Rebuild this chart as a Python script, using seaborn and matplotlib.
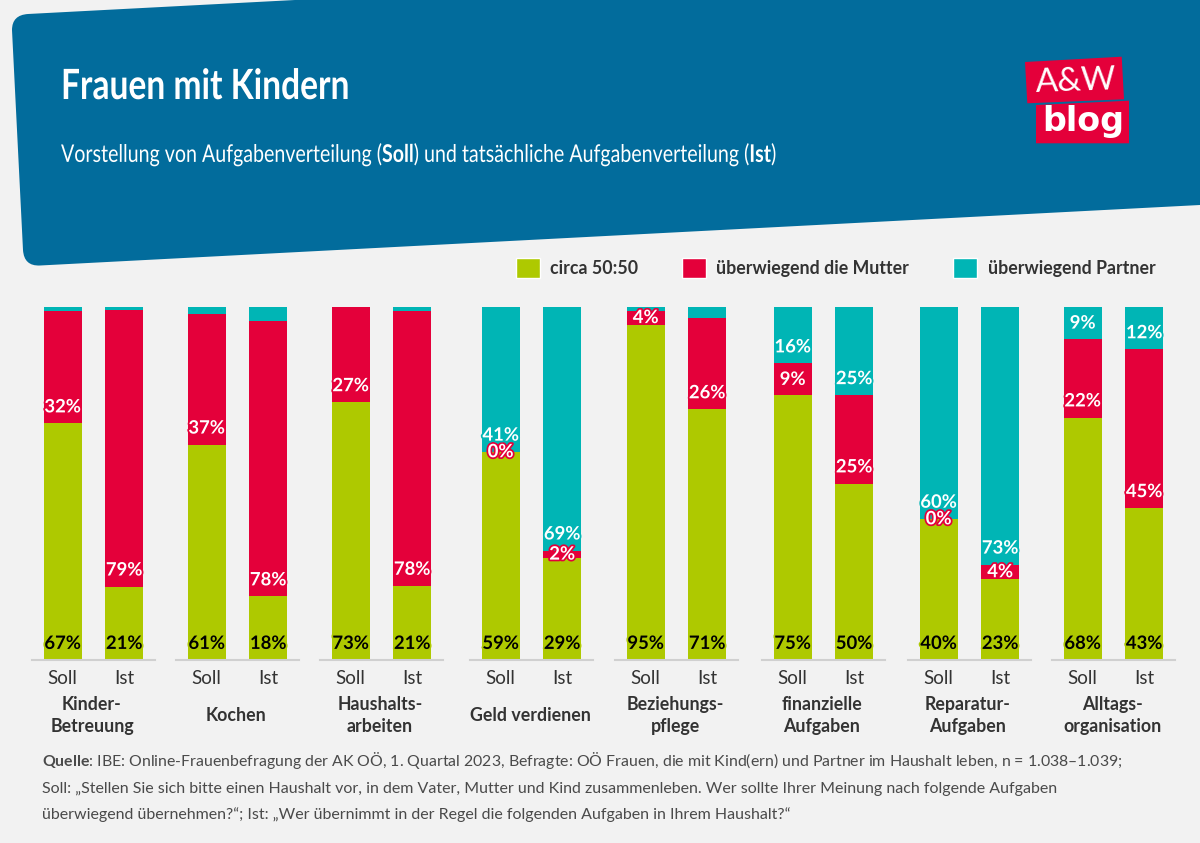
import matplotlib
matplotlib.use('Agg')
import matplotlib.pyplot as plt
import matplotlib.patheffects as pe
from matplotlib.path import Path
from matplotlib.patches import PathPatch, Polygon, Patch
from matplotlib.transforms import Affine2D
import seaborn as sns

aufgaben = ['Kinder-\nBetreuung', 'Kochen', 'Haushalts-\narbeiten', 'Geld verdienen',
            'Beziehungs-\npflege', 'finanzielle\nAufgaben', 'Reparatur-\nAufgaben', 'Alltags-\norganisation']
perioden = ['Soll', 'Ist']
# je [Soll, Ist]
circa = [[67, 21], [61, 18], [73, 21], [59, 29], [95, 71], [75, 50], [40, 23], [68, 43]]
mutter = [[32, 79], [37, 78], [27, 78], [0, 2], [4, 26], [9, 25], [0, 4], [22, 45]]
partner = [[1, 1], [2, 4], [0, 1], [41, 69], [1, 3], [16, 25], [60, 73], [9, 12]]
# linker Rand der Gruppen in Pixel
links = [32, 176, 320, 470, 615, 762, 908, 1052]

GRUEN, ROT, TUERKIS = '#aec900', '#e4003a', '#00b5b5'
BLAU, BG, TXT = '#026c9c', '#f2f2f2', '#333333'
W, H = 1200, 843

sns.set_theme(style='white')
plt.rcParams['font.family'] = ['Lato', 'DejaVu Sans']
# fette Wörter im Fließtext über mathtext
plt.rcParams['mathtext.fontset'] = 'custom'
plt.rcParams['mathtext.rm'] = 'Lato'
plt.rcParams['mathtext.bf'] = 'Lato:bold'
plt.rcParams['mathtext.default'] = 'regular'


class Schmal(pe.AbstractPathEffect):
    # Schrift waagrecht stauchen, es gibt keine schmale Schrift
    def __init__(self, faktor):
        super().__init__()
        self.faktor = faktor

    def draw_path(self, renderer, gc, tpath, affine, rgbFace=None):
        renderer.draw_path(gc, tpath, Affine2D().scale(self.faktor, 1) + affine, rgbFace)


fig = plt.figure(figsize=(12, 8.43), dpi=100, facecolor=BG)
bg = fig.add_axes([0, 0, 1, 1], zorder=0)
bg.set_xlim(0, W)
bg.set_ylim(H, 0)
bg.axis('off')

# Banner
verts = [(12, 30), (12, 15), (28, 14), (295, 0), (1200, 0), (1200, 205),
         (40, 265.5), (24, 266.3), (23, 250), (12, 30)]
codes = [Path.MOVETO, Path.CURVE3, Path.CURVE3, Path.LINETO, Path.LINETO, Path.LINETO,
         Path.LINETO, Path.CURVE3, Path.CURVE3, Path.CLOSEPOLY]
bg.add_patch(PathPatch(Path(verts, codes), fc=BLAU, ec='none'))

# Logo
bg.add_patch(Polygon([(1025, 62), (1121.7, 56.7), (1124, 99.3), (1027.3, 103.3)], fc=ROT, ec='none'))
bg.add_patch(Polygon([(1036, 105), (1129, 100.7), (1129, 143.3), (1036, 143.3)], fc=ROT, ec='none'))
bg.text(1076, 82, 'A&W', color='white', fontsize=24, ha='center', va='center', rotation=2)
bg.text(1083, 122, 'blog', color='white', fontsize=24, ha='center', va='center', fontweight='bold',
        family=['DejaVu Sans'])

bg.text(61, 99, 'Frauen mit Kindern', color='white', fontsize=30, fontweight='bold', va='baseline',
        path_effects=[Schmal(0.805)])
bg.text(61, 162, r'Vorstellung von Aufgabenverteilung ($\mathbf{Soll}$) und tatsächliche Aufgabenverteilung ($\mathbf{Ist}$)',
        color='white', fontsize=17.5, va='baseline', path_effects=[Schmal(0.807)])

for nr, name in enumerate(aufgaben):
    ax = fig.add_axes([links[nr] / W, 1 - 660 / H, 123 / W, 353 / H], zorder=1)
    ax.patch.set_alpha(0)
    gruen, rot, tuerkis = [], [], []
    for p in range(2):
        summe = circa[nr][p] + mutter[nr][p] + partner[nr][p]
        gruen.append(circa[nr][p] / summe * 100)
        rot.append(mutter[nr][p] / summe * 100)
        tuerkis.append(partner[nr][p] / summe * 100)
    boden_rot = gruen
    boden_tuerkis = [a + b for a, b in zip(gruen, rot)]
    sns.barplot(x=perioden, y=gruen, color=GRUEN, saturation=1, width=0.61, linewidth=0, ax=ax)
    sns.barplot(x=perioden, y=rot, bottom=boden_rot, color=ROT, saturation=1, width=0.61, linewidth=0, ax=ax)
    sns.barplot(x=perioden, y=tuerkis, bottom=boden_tuerkis, color=TUERKIS, saturation=1, width=0.61, linewidth=0, ax=ax)
    ax.set_xlim(-0.5, 1.5)
    ax.set_ylim(0, 100)
    sns.despine(ax=ax, left=True)
    ax.spines['bottom'].set_color('#d0d0d0')
    ax.spines['bottom'].set_linewidth(1.5)
    ax.set_yticks([])
    ax.tick_params(axis='x', length=0, pad=7, labelsize=13.5, labelcolor=TXT)

    for p in range(2):
        reihen = [(circa[nr][p], gruen[p], 0, GRUEN, 'black'),
                  (mutter[nr][p], rot[p], boden_rot[p], ROT, 'white'),
                  (partner[nr][p], tuerkis[p], boden_tuerkis[p], TUERKIS, 'white')]
        for wert, hoehe, boden, farbe, tc in reihen:
            if farbe == TUERKIS and wert < 5:
                continue
            ax.text(p, boden + min(hoehe / 2, 4.7), f'{wert}%', color=tc, fontsize=13.3, fontweight='bold',
                    ha='center', va='center', zorder=5,
                    path_effects=[pe.withStroke(linewidth=2.5, foreground=farbe)])
    ax.annotate(name, xy=(0.5, 0), xycoords='axes fraction', xytext=(-1.5 * 0.72, -55.5 * 0.72), textcoords='offset points',
                ha='center', va='center', fontsize=12.8, fontweight='bold', color=TXT, linespacing=1.3)

# Legende
griffe = [Patch(fc=GRUEN, label='circa 50:50'), Patch(fc=ROT, label='überwiegend die Mutter'),
          Patch(fc=TUERKIS, label='überwiegend Partner')]
leg = fig.legend(handles=griffe, loc='center left', bbox_to_anchor=(499.5 / W, 1 - 268 / H), ncols=3, frameon=False,
                 handlelength=1.35, handleheight=1.3, handletextpad=0.58, columnspacing=2.48,
                 prop={'weight': 'bold', 'size': 12.8})
for t in leg.get_texts():
    t.set_color(TXT)

# Quelle
FUSS = '#4a4a4a'
bg.text(42, 766, r'$\mathbf{Quelle}$: IBE: Online-Frauenbefragung der AK OÖ, 1. Quartal 2023, Befragte: OÖ Frauen, die mit Kind(ern) und Partner im Haushalt leben, n = 1.038–1.039;',
        fontsize=11.45, color=FUSS, va='baseline')
bg.text(42, 793, 'Soll: „Stellen Sie sich bitte einen Haushalt vor, in dem Vater, Mutter und Kind zusammenleben. Wer sollte Ihrer Meinung nach folgende Aufgaben',
        fontsize=11.55, color=FUSS, va='baseline')
bg.text(42, 819, 'überwiegend übernehmen?“; Ist: „Wer übernimmt in der Regel die folgenden Aufgaben in Ihrem Haushalt?“',
        fontsize=11.5, color=FUSS, va='baseline')

fig.savefig('out.png', dpi=100, facecolor=BG)
